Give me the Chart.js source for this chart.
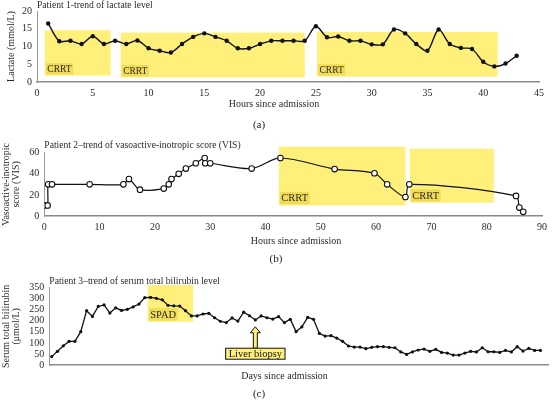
<!DOCTYPE html>
<html>
<head>
<meta charset="utf-8">
<script src="https://cdn.jsdelivr.net/npm/chart.js@4.4.1/dist/chart.umd.min.js"></script>
<style>
  body { margin: 0; background: #fff; width: 552px; height: 402px; position: relative; overflow: hidden; font-family: "Liberation Serif", serif; }
  canvas { position: absolute; left: 0; }
  .cap { position: absolute; font-size: 11px; color: #222; transform: translateX(-50%); }
</style>
</head>
<body>
<canvas id="c1" width="552" height="132" style="top:0"></canvas>
<canvas id="c2" width="552" height="136" style="top:132px"></canvas>
<canvas id="c3" width="552" height="134" style="top:268px"></canvas>
<div class="cap" style="left:259px;top:118px">(a)</div>
<div class="cap" style="left:276px;top:252px">(b)</div>
<div class="cap" style="left:259px;top:387px">(c)</div>
<script>
// ---- panel (a): lactate ----
const lactateHours = [1,2,3,4,5,6,7,8,9,10,11,12,13,14,15,16,17,18,19,20,21,22,23,24,25,26,27,28,29,30,31,32,33,34,35,36,37,38,39,40,41,42,43]
const lactateValues = [16.5,11.5,11.6,10.7,12.9,10.7,11.6,10.7,11.7,9.5,8.8,8.3,10.7,12.7,13.7,12.7,11.6,9.5,9.5,10.7,11.6,11.6,11.6,11.6,15.7,12.6,12.8,11.6,11.6,10.6,10.6,14.8,13.7,10.7,8.8,14.8,10.7,9.6,9.3,5.7,4.4,5.2,7.4]
const crrtA_from = [0.7, 7.5, 25.1]
const crrtA_to = [6.6, 24.0, 41.3]
const crrtA_top = [14.6, 13.9, 14.1]
const crrtA_bottom = [1.8, 1.3, 1.5]

// ---- panel (b): VIS ----
const visHours = [0,0.6,0.7,1.4,8.2,14.3,15.3,17.3,21.6,22.5,23,24.3,25.6,27.4,29,29.1,30,37.5,42.7,52.5,59.7,62,65.3,66,85.3,85.9,86.6]
const visValues = [10,10,30,30,30,30,35,25,26,30,35,40,45,50,55,50,50,45,55,44.5,40.5,30,18,30,19,8,4]
const crrtB_from = [42.4, 66.1]
const crrtB_to = [65.3, 81.3]
const crrtB_top = [65.7, 63.8]
const crrtB_bottom = [10.1, 12.6]

// ---- panel (c): bilirubin ----
const biliDays = []
for (let d = 1; d <= 85; d++) biliDays.push(d)
const biliValues = [38,62,87,107,107,151,246,220,265,272,235,259,247,252,263,276,305,306,302,295,270,268,267,246,222,222,231,234,214,198,192,213,199,239,223,204,222,214,208,219,192,207,151,173,216,207,143,131,133,122,107,86,81,81,74,80,83,83,80,78,59,48,59,68,72,62,71,57,54,45,45,54,62,59,78,60,60,57,66,59,83,63,75,66,66]
const spadFrom = 17.5, spadTo = 25.3, spadTop = 362, spadBottom = 196
const biopsyDay = 36, biopsyTip = 173, biopsyBoxTop = 76

const FONT = '"Liberation Serif", "DejaVu Serif", serif'
const YELLOW = '#fff07c'
const LABEL_BG = '#f3dc55'
const INK = '#2a2a2a'

const toPoints = (xs, ys) => xs.map((x, i) => ({ x: x, y: ys[i] }))

// draws highlight boxes, panel title, x title and the biopsy marker
const deco = {
  id: 'deco',
  beforeDatasetsDraw(chart, args, opts) {
    const { ctx } = chart
    const xs = chart.scales.x, ys = chart.scales.y
    ;(opts.boxes || []).forEach(b => {
      const l = xs.getPixelForValue(b.from), r = xs.getPixelForValue(b.to)
      const t = ys.getPixelForValue(b.top), btm = ys.getPixelForValue(b.bottom)
      ctx.save()
      ctx.fillStyle = YELLOW
      ctx.fillRect(l, t, r - l, btm - t)
      ctx.font = opts.labelSize + 'px ' + FONT
      const w = ctx.measureText(b.label).width
      const h = opts.labelSize + 2
      ctx.fillStyle = LABEL_BG
      ctx.fillRect(l + 1, btm - h - 1, w + 3, h)
      ctx.fillStyle = INK
      ctx.textBaseline = 'middle'
      ctx.fillText(b.label, l + 2.5, btm - 1 - h / 2 + 0.5)
      ctx.restore()
    })
  },
  afterDraw(chart, args, opts) {
    const { ctx, chartArea } = chart
    ctx.save()
    ctx.fillStyle = INK
    ctx.textBaseline = 'middle'
    ctx.font = '9.6px ' + FONT
    ctx.fillText(opts.title, chartArea.left, opts.titleY)
    ctx.font = '10px ' + FONT
    ctx.textAlign = 'center'
    ctx.fillText(opts.xTitle, opts.xTitleX, opts.xTitleY)
    if (opts.biopsy) {
      const xs = chart.scales.x, ys = chart.scales.y
      const ax = xs.getPixelForValue(opts.biopsy.day)
      const tip = ys.getPixelForValue(opts.biopsy.tip)
      const boxTop = ys.getPixelForValue(opts.biopsy.boxTop)
      ctx.beginPath()
      ctx.moveTo(ax, tip)
      ctx.lineTo(ax + 5, tip + 6)
      ctx.lineTo(ax + 2, tip + 6)
      ctx.lineTo(ax + 2, boxTop)
      ctx.lineTo(ax - 2, boxTop)
      ctx.lineTo(ax - 2, tip + 6)
      ctx.lineTo(ax - 5, tip + 6)
      ctx.closePath()
      ctx.fillStyle = YELLOW
      ctx.fill()
      ctx.strokeStyle = '#111'
      ctx.lineWidth = 1
      ctx.stroke()
      ctx.font = '10.5px ' + FONT
      const txt = opts.biopsy.label
      const w = ctx.measureText(txt).width + 6
      const h = 11
      ctx.fillStyle = YELLOW
      ctx.fillRect(ax - w / 2, boxTop, w, h)
      ctx.strokeRect(ax - w / 2, boxTop, w, h)
      ctx.fillStyle = '#111'
      ctx.fillText(txt, ax, boxTop + h / 2 + 0.5)
    }
    ctx.restore()
  }
}

function axisX(min, max, step, height, showTicks) {
  return {
    type: 'linear', min: min, max: max,
    grid: { display: false, drawTicks: false },
    border: { display: true, color: '#8a8a8a', width: 1.6 },
    ticks: { display: showTicks, stepSize: step, autoSkip: false, padding: 5, color: INK, font: { family: FONT, size: 10 }, maxRotation: 0 },
    afterFit: s => { s.height = height }
  }
}

function axisY(min, max, step, width, title, titlePad) {
  return {
    min: min, max: max,
    grid: { display: false, drawTicks: false },
    border: { display: true, color: '#9a9a9a', width: 1 },
    ticks: { stepSize: step, autoSkip: false, padding: 5, color: INK, font: { family: FONT, size: 10 } },
    title: { display: true, text: title, color: INK, font: { family: FONT, size: 10, lineHeight: 0.95 }, padding: { top: titlePad, bottom: 0 } },
    afterFit: s => { s.width = width }
  }
}

Chart.defaults.animation = false

new Chart(document.getElementById('c1'), {
  type: 'line',
  data: {
    datasets: [{
      data: toPoints(lactateHours, lactateValues),
      borderColor: '#111', borderWidth: 1.4, tension: 0.3,
      pointRadius: 2.2, pointBackgroundColor: '#111', pointBorderWidth: 0
    }]
  },
  options: {
    responsive: false,
    layout: { padding: { top: 11, right: 13, left: 0, bottom: 0 } },
    scales: {
      x: axisX(0, 45, 5, 50, true),
      y: axisY(0, 20, 5, 37, 'Lactate (mmol/L)', 7)
    },
    plugins: {
      legend: { display: false }, tooltip: { enabled: false },
      deco: {
        boxes: crrtA_from.map((f, i) => ({ from: f, to: crrtA_to[i], top: crrtA_top[i], bottom: crrtA_bottom[i], label: 'CRRT' })),
        labelSize: 9.5,
        title: 'Patient 1-trend of lactate level', titleY: 5.5,
        xTitle: 'Hours since admission', xTitleX: 274, xTitleY: 104
      }
    }
  },
  plugins: [deco]
})

new Chart(document.getElementById('c2'), {
  type: 'line',
  data: {
    datasets: [{
      data: toPoints(visHours, visValues),
      borderColor: '#111', borderWidth: 1.2, tension: 0.3,
      pointRadius: 2.8, pointBackgroundColor: '#fff', pointBorderColor: '#111', pointBorderWidth: 1.1
    }]
  },
  options: {
    responsive: false,
    layout: { padding: { top: 20.7, right: 9.3, left: 0, bottom: 0 } },
    scales: {
      x: axisX(0, 90, 10, 52, true),
      y: axisY(0, 60, 20, 44.3, ['Vasoactive-inotropic', 'score (VIS)'], 1.8)
    },
    plugins: {
      legend: { display: false }, tooltip: { enabled: false },
      deco: {
        boxes: crrtB_from.map((f, i) => ({ from: f, to: crrtB_to[i], top: crrtB_top[i], bottom: crrtB_bottom[i], label: 'CRRT' })),
        labelSize: 10.5,
        title: 'Patient 2\u2013trend of vasoactive-inotropic score (VIS)', titleY: 13,
        xTitle: 'Hours since admission', xTitleX: 296, xTitleY: 109
      }
    }
  },
  plugins: [deco]
})

new Chart(document.getElementById('c3'), {
  type: 'line',
  data: {
    datasets: [{
      data: toPoints(biliDays, biliValues),
      borderColor: '#111', borderWidth: 1.3, tension: 0,
      pointRadius: 1.6, pointBackgroundColor: '#111', pointBorderWidth: 0
    }]
  },
  options: {
    responsive: false,
    layout: { padding: { top: 19.7, right: 0, left: 0, bottom: 0 } },
    scales: {
      x: axisX(0.59, 86.3, 10, 37, false),
      y: axisY(0, 350, 50, 49.3, ['Serum total bilirubin', '(\u03bcmol/L)'], 1.8)
    },
    plugins: {
      legend: { display: false }, tooltip: { enabled: false },
      deco: {
        boxes: [{ from: spadFrom, to: spadTo, top: spadTop, bottom: spadBottom, label: 'SPAD' }],
        labelSize: 10.5,
        title: 'Patient 3\u2013trend of serum total bilirubin level', titleY: 13,
        xTitle: 'Days since admission', xTitleX: 284.5, xTitleY: 108,
        biopsy: { day: biopsyDay, tip: biopsyTip, boxTop: biopsyBoxTop, label: 'Liver biopsy' }
      }
    }
  },
  plugins: [deco]
})
</script>
</body>
</html>
